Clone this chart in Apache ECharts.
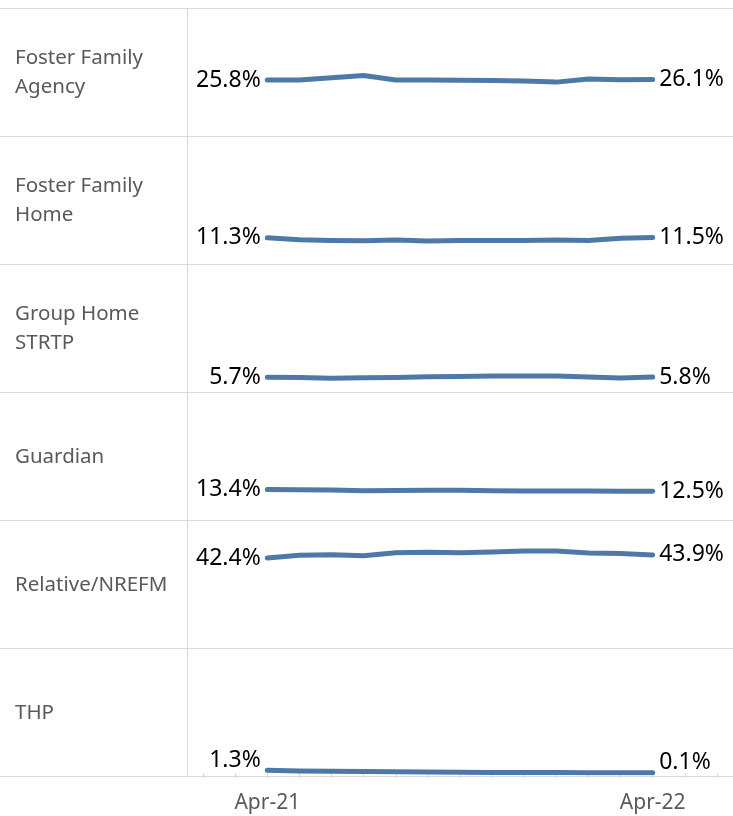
<!DOCTYPE html>
<html>
<head>
<meta charset="utf-8">
<script src="https://cdn.jsdelivr.net/npm/echarts@6/dist/echarts.min.js"></script>
<style>
    html, body { margin: 0; padding: 0; background: #fff; }
    #chart { width: 733px; height: 816px; }
</style>
</head>
<body>
<div id="chart"></div>
<script>
    // months on the axis (data only from Apr-21 to Apr-22)
    var months = ['Feb-21', 'Mar-21', 'Apr-21', 'May-21', 'Jun-21', 'Jul-21', 'Aug-21', 'Sep-21', 'Oct-21',
        'Nov-21', 'Dec-21', 'Jan-22', 'Feb-22', 'Mar-22', 'Apr-22', 'May-22', 'Jun-22'];
    var shownLabels = ['Apr-21', 'Apr-22'];

    var rowNames = ['Foster Family\nAgency', 'Foster Family\nHome', 'Group Home\nSTRTP', 'Guardian', 'Relative/NREFM', 'THP'];

    // percent of placements, Apr-21 .. Apr-22
    var fosterAgency = [25.8, 25.8, 26.9, 28.0, 25.8, 25.8, 25.7, 25.6, 25.4, 24.8, 26.3, 25.9, 26.1];
    var fosterHome   = [11.3, 10.4, 10.0, 9.9, 10.2, 9.7, 10.0, 10.0, 10.0, 10.2, 10.0, 11.1, 11.5];
    var groupHome    = [5.7, 5.6, 5.3, 5.5, 5.6, 6.0, 6.1, 6.3, 6.3, 6.3, 5.9, 5.4, 5.8];
    var guardian     = [13.4, 13.3, 13.1, 12.8, 12.9, 13.0, 13.0, 12.8, 12.7, 12.7, 12.7, 12.6, 12.5];
    var relative     = [42.4, 43.7, 44.0, 43.5, 45.0, 45.2, 45.0, 45.3, 45.8, 45.8, 44.8, 44.6, 43.9];
    var thp          = [1.3, 1.0, 0.8, 0.7, 0.6, 0.5, 0.4, 0.3, 0.2, 0.2, 0.1, 0.1, 0.1];

    var allSeries = [fosterAgency, fosterHome, groupHome, guardian, relative, thp];

    var rowTop = 8, rowH = 128, leftCol = 187;
    var lineColor = '#4e79a7', gridColor = '#d9d9d9';
    var firstIdx = months.indexOf('Apr-21');

    var grids = [], xAxes = [], yAxes = [], series = [], graphics = [];

    allSeries.forEach(function (vals, i) {
        var top = rowTop + rowH * i;
        grids.push({ left: leftCol, right: 0, top: top + 6, height: rowH - 9 });
        var last = i === allSeries.length - 1;
        xAxes.push({
            type: 'category',
            gridIndex: i,
            data: months,
            boundaryGap: true,
            offset: 3,
            axisLine: { show: false },
            axisTick: { show: last, interval: 0, alignWithLabel: true, length: 5, lineStyle: { color: gridColor } },
            axisLabel: {
                show: last,
                interval: function (idx, val) { return shownLabels.indexOf(val) >= 0; },
                color: '#595959',
                fontFamily: 'Noto Sans',
                fontSize: 21,
                margin: 17
            }
        });
        yAxes.push({ type: 'value', gridIndex: i, min: 0, max: 58, show: false });

        // the bottom row's labels sit above the line, clear of the axis
        var shift = last ? [0, -10] : [0, 0];
        var data = months.map(function () { return null; });
        vals.forEach(function (v, k) {
            var item = { value: v };
            if (k === 0) item.label = { show: true, position: 'left', offset: shift };
            if (k === vals.length - 1) item.label = { show: true, position: 'right', offset: shift };
            data[firstIdx + k] = item;
        });
        series.push({
            type: 'line',
            xAxisIndex: i,
            yAxisIndex: i,
            data: data,
            showSymbol: true,
            symbol: 'circle',
            symbolSize: 1,
            itemStyle: { color: lineColor },
            silent: true,
            lineStyle: { color: lineColor, width: 5, cap: 'round', join: 'round' },
            label: {
                show: false,
                distance: 6,
                color: '#000',
                fontFamily: 'Noto Sans',
                fontSize: 23,
                formatter: function (p) { return p.value.toFixed(1) + '%'; }
            }
        });

        graphics.push({
            type: 'text',
            x: 15,
            y: top + 65,
            style: {
                text: rowNames[i],
                fill: '#595959',
                font: '20.5px "Noto Sans"',
                lineHeight: 29,
                verticalAlign: 'middle'
            }
        });
    });

    // row separators and label column border
    for (var r = 0; r <= allSeries.length; r++) {
        graphics.push({
            type: 'line',
            shape: { x1: 0, y1: rowTop + rowH * r + 0.5, x2: 733, y2: rowTop + rowH * r + 0.5 },
            style: { stroke: gridColor, lineWidth: 1 }
        });
    }
    graphics.push({
        type: 'line',
        shape: { x1: leftCol + 0.5, y1: rowTop, x2: leftCol + 0.5, y2: rowTop + rowH * allSeries.length },
        style: { stroke: gridColor, lineWidth: 1 }
    });

    var chart = echarts.init(document.getElementById('chart'));
    chart.setOption({
        animation: false,
        grid: grids,
        xAxis: xAxes,
        yAxis: yAxes,
        series: series,
        graphic: graphics
    });
</script>
</body>
</html>
